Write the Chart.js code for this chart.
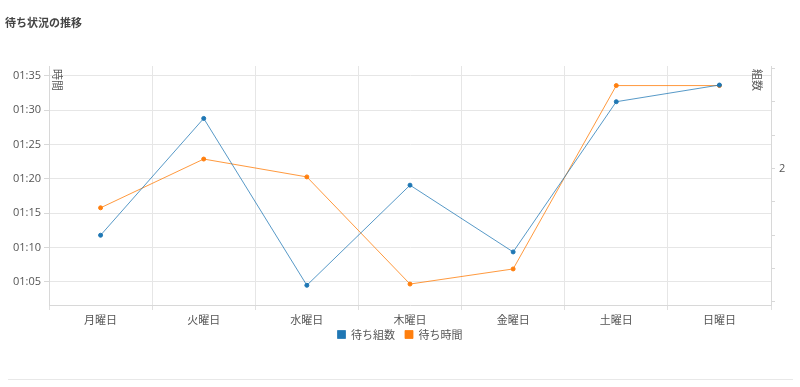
<!DOCTYPE html>
<html>
<head>
<meta charset="utf-8">
<script src="https://cdn.jsdelivr.net/npm/chart.js@4.4.0/dist/chart.umd.min.js"></script>
<style>
  body { margin: 0; background: #fff; font-family: "Noto Sans CJK JP", "Open Sans", sans-serif; }
  #wrap { position: relative; width: 800px; height: 387px; }
  #title { position: absolute; left: 5px; top: 14px; font-size: 11px; font-weight: bold; color: #444; }
  #chartBox { position: absolute; left: 0; top: 0; width: 800px; height: 387px; }
  #sep { position: absolute; left: 8px; top: 379px; width: 785px; height: 1px; background: #e8e8e8; }
</style>
</head>
<body>
<div id="wrap">
  <div id="chartBox"><canvas id="waitChart"></canvas></div>
  <div id="title">待ち状況の推移</div>
  <div id="sep"></div>
</div>
<script>
// weekdays
const days = ["月曜日", "火曜日", "水曜日", "木曜日", "金曜日", "土曜日", "日曜日"];
// waiting groups (right axis)
const waitGroups = [1.80, 2.15, 1.65, 1.95, 1.75, 2.20, 2.25];
// waiting time in minutes (left axis, shown as hh:mm)
const waitMinutes = [75.8, 82.9, 80.3, 64.7, 66.9, 93.6, 93.6];

const blue = "#1f77b4";
const orange = "#ff7f0e";

function fmtTime(v) {
  const h = Math.floor(v / 60);
  const m = Math.round(v - h * 60);
  return String(h).padStart(2, "0") + ":" + String(m).padStart(2, "0");
}

// axis titles sit inside the plot, rotated
const axisTitles = {
  id: "axisTitles",
  afterLayout(chart) {
    // pull the legend a bit closer to the x labels
    if (chart.legend) {
      chart.legend.top -= 6;
      chart.legend.bottom -= 6;
    }
  },
  afterDraw(chart) {
    const ctx = chart.ctx;
    const area = chart.chartArea;
    ctx.save();
    ctx.font = '11px "Noto Sans CJK JP"';
    ctx.fillStyle = "#555";
    ctx.textBaseline = "middle";
    ctx.textAlign = "left";
    [["時間", area.left + 8], ["組数", area.right - 14]].forEach(([t, x]) => {
      ctx.save();
      ctx.translate(x, area.top + 3);
      ctx.rotate(Math.PI / 2);
      ctx.fillText(t, 0, 0);
      ctx.restore();
    });
    ctx.restore();
  }
};

const ctx = document.getElementById("waitChart").getContext("2d");
new Chart(ctx, {
  type: "line",
  data: {
    labels: days,
    datasets: [
      {
        label: "待ち組数",
        data: waitGroups,
        yAxisID: "yGroups",
        borderColor: "rgba(31,119,180,0.75)",
        backgroundColor: blue,
        pointBackgroundColor: blue,
        pointBorderColor: blue,
        borderWidth: 1,
        pointRadius: 2,
        tension: 0
      },
      {
        label: "待ち時間",
        data: waitMinutes,
        yAxisID: "yTime",
        borderColor: "rgba(255,127,14,0.8)",
        backgroundColor: orange,
        pointBackgroundColor: orange,
        pointBorderColor: orange,
        borderWidth: 1,
        pointRadius: 2,
        tension: 0
      }
    ]
  },
  options: {
    responsive: true,
    maintainAspectRatio: false,
    animation: false,
    layout: { padding: { top: 66, left: 0, right: 0, bottom: 31 } },
    plugins: {
      legend: {
        position: "bottom",
        labels: {
          boxWidth: 8,
          boxHeight: 8,
          padding: 10,
          color: "#555",
          font: { family: "Noto Sans CJK JP", size: 11 }
        }
      },
      tooltip: { enabled: false }
    },
    scales: {
      x: {
        offset: true,
        grid: { offset: true, color: "#e6e6e6", tickLength: 5, tickColor: "#e0e0e0" },
        border: { color: "#d8d8d8" },
        ticks: { color: "#555", padding: 3, font: { family: "Noto Sans CJK JP", size: 11 } },
        afterFit(s) { s.height = 20; }
      },
      yTime: {
        position: "left",
        min: 61.65,
        max: 96.45,
        grid: { color: "#e6e6e6", tickLength: 5, tickColor: "#d8d8d8" },
        border: { color: "#d8d8d8" },
        ticks: {
          color: "#555",
          padding: 3,
          font: { family: "Open Sans", size: 11 },
          callback: v => fmtTime(v)
        },
        afterBuildTicks(s) {
          const t = [];
          for (let v = 65; v <= 95; v += 5) t.push({ value: v });
          s.ticks = t;
        },
        afterFit(s) { s.width = 49; }
      },
      yGroups: {
        position: "right",
        min: 1.591,
        max: 2.307,
        grid: { drawOnChartArea: false, tickLength: 4, tickColor: "#d8d8d8" },
        border: { color: "#d8d8d8" },
        ticks: {
          color: "#555",
          padding: 4,
          font: { family: "Open Sans", size: 11 },
          callback: v => Math.abs(v - Math.round(v)) < 1e-6 ? String(Math.round(v)) : ""
        },
        afterBuildTicks(s) {
          const t = [];
          for (let i = 16; i <= 23; i++) t.push({ value: i / 10 });
          s.ticks = t;
        },
        afterFit(s) { s.width = 29; }
      }
    }
  },
  plugins: [axisTitles]
});
</script>
</body>
</html>
